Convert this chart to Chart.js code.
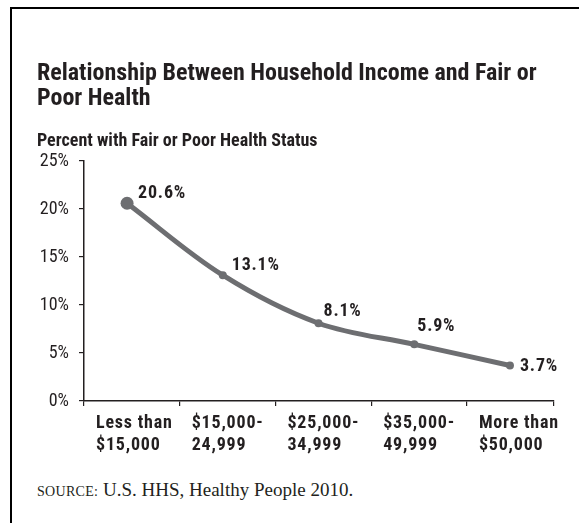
<!DOCTYPE html>
<html lang="en">
<head>
<meta charset="utf-8">
<title>Household Income and Fair or Poor Health</title>
<script src="https://cdn.jsdelivr.net/npm/chart.js@4.4.0/dist/chart.umd.min.js"></script>
<style>
  body { margin: 0; background: #fff; }
  #marco { position: relative; width: 579px; height: 523px; overflow: hidden; background: #fff; }
  #borde-sup { position: absolute; left: 10px; top: 7px; right: 0; height: 2px; background: #000; }
  #borde-izq { position: absolute; left: 10px; top: 7px; bottom: 0; width: 2px; background: #000; }
  #grafico { position: absolute; left: 37px; top: 0; }
  #fuente {
    position: absolute; left: 37px; top: 480px;
    font-family: "Liberation Serif", "Times New Roman", serif;
    font-size: 19px; line-height: 19px; color: #231f20; white-space: nowrap;
  }
  #fuente span { font-size: 14px; letter-spacing: 0.3px; }
</style>
</head>
<body>
<div id="marco">
  <div id="borde-sup"></div>
  <div id="borde-izq"></div>
  <canvas id="grafico" width="542" height="478"></canvas>
  <div id="fuente"><span>SOURCE:</span> U.S. HHS, Healthy People 2010.</div>
</div>
<script>
// tramos de ingreso del hogar
const categorias = [
  ["Less than", "$15,000"],
  ["$15,000-", "24,999"],
  ["$25,000-", "34,999"],
  ["$35,000-", "49,999"],
  ["More than", "$50,000"],
];

// porcentaje con salud regular o mala
const porcentajes = [20.6, 13.1, 8.1, 5.9, 3.7];

const ticksY = [0, 5, 10, 15, 20, 25];

const TEXTO = "#231f20";
const LINEA = "#6d6e71";
const FUENTE = "'Roboto Condensed', 'Liberation Sans', Arial, sans-serif";

// límites de cada tramo en el eje x (las marcas caen entre puntos)
const xMin = -0.45;
const xMax = 4.46;
const limites = categorias.map((c, i) => i + xMin).concat([xMax]);

// desplazamiento de cada etiqueta respecto a su punto
const desplazamientos = [
  { dx: 11, dy: -10 },
  { dx: 9, dy: -10 },
  { dx: 5, dy: -12 },
  { dx: 3, dy: -18 },
  { dx: 10, dy: 1 },
];

// títulos sin espaciado; etiquetas de datos y del eje x algo más abiertas
const espaciado = {
  id: "espaciado",
  beforeDraw(chart) {
    chart.ctx.letterSpacing = "0px";
  },
  beforeDatasetsDraw(chart) {
    chart.ctx.letterSpacing = "0.8px";
  },
};

const etiquetasValor = {
  id: "etiquetasValor",
  afterDatasetsDraw(chart) {
    const ctx = chart.ctx;
    const meta = chart.getDatasetMeta(0);
    ctx.save();
    ctx.font = "bold 18px " + FUENTE;
    ctx.fillStyle = TEXTO;
    ctx.textAlign = "left";
    ctx.textBaseline = "middle";
    meta.data.forEach((punto, i) => {
      const d = desplazamientos[i];
      ctx.fillText(porcentajes[i].toFixed(1) + "%", punto.x + d.dx, punto.y + d.dy);
    });
    ctx.restore();
  },
};

Chart.defaults.font.family = FUENTE;
Chart.defaults.color = TEXTO;

const ctx = document.getElementById("grafico").getContext("2d");
const grafico = new Chart(ctx, {
  type: "line",
  data: {
    datasets: [
      {
        label: "Percent with Fair or Poor Health Status",
        data: porcentajes.map((v, i) => ({ x: i, y: v })),
        borderColor: LINEA,
        backgroundColor: LINEA,
        borderWidth: 5,
        tension: 0.35,
        pointRadius: porcentajes.map((v, i) => (i === 0 ? 6.5 : 4)),
        pointBorderWidth: 0,
        pointBackgroundColor: LINEA,
      },
    ],
  },
  options: {
    responsive: false,
    maintainAspectRatio: false,
    animation: false,
    layout: { padding: { left: 0, right: 25, top: 0, bottom: 15 } },
    plugins: {
      legend: { display: false },
      tooltip: { enabled: false },
      title: {
        display: true,
        text: ["Relationship Between Household Income and Fair or", "Poor Health"],
        align: "start",
        color: TEXTO,
        font: { size: 24, weight: "bold", lineHeight: "25px" },
        padding: { top: 61, bottom: 0 },
      },
      subtitle: {
        display: true,
        text: "Percent with Fair or Poor Health Status",
        align: "start",
        color: TEXTO,
        font: { size: 18, weight: "bold", lineHeight: "20px" },
        padding: { top: 20, bottom: 10 },
      },
    },
    scales: {
      x: {
        type: "linear",
        min: xMin,
        max: xMax,
        afterBuildTicks: (escala) => {
          escala.ticks = limites.map((v) => ({ value: v }));
        },
        grid: {
          drawOnChartArea: false,
          drawTicks: true,
          tickLength: 5,
          color: TEXTO,
          lineWidth: 1.2,
        },
        border: { display: true, color: TEXTO, width: 1.5 },
        ticks: {
          z: 1,
          autoSkip: false,
          maxRotation: 0,
          align: "start",
          labelOffset: 12,
          padding: 6,
          color: TEXTO,
          font: { size: 18, weight: "bold", lineHeight: "22.5px" },
          callback: (valor, indice) => categorias[indice] || "",
        },
      },
      y: {
        min: 0,
        max: 25,
        afterBuildTicks: (escala) => {
          escala.ticks = ticksY.map((v) => ({ value: v }));
        },
        afterFit: (escala) => {
          escala.width = 47;
        },
        grid: {
          drawOnChartArea: false,
          drawTicks: true,
          tickLength: 5,
          color: TEXTO,
          lineWidth: 1.2,
        },
        border: { display: true, color: TEXTO, width: 1.5 },
        ticks: {
          padding: 10,
          color: TEXTO,
          font: { size: 18, weight: "normal" },
          callback: (v) => v + "%",
        },
      },
    },
  },
  plugins: [espaciado, etiquetasValor],
});
</script>
</body>
</html>
